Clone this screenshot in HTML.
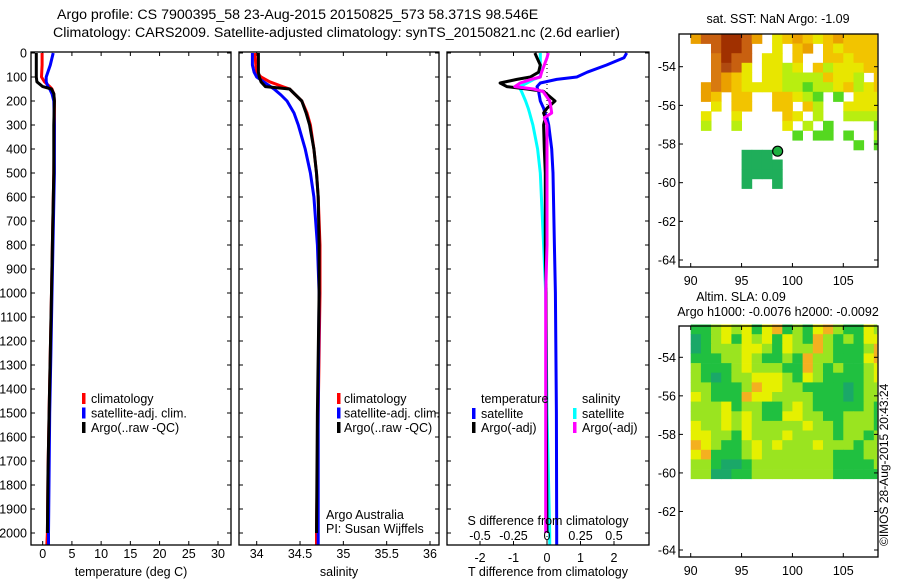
<!DOCTYPE html>
<html><head><meta charset="utf-8">
<style>
html,body{margin:0;padding:0;background:#fff;}
svg{display:block;font-family:"Liberation Sans",sans-serif;}
text{font-size:12.5px;fill:#000;}
</style></head>
<body>
<svg id="fig" width="900" height="580" viewBox="0 0 900 580" xmlns="http://www.w3.org/2000/svg">
<text x="57" y="19" style="font-size:14.2px">Argo profile: CS 7900395_58 23-Aug-2015 20150825_573 58.371S 98.546E</text>
<text x="53" y="37" style="font-size:14.2px">Climatology: CARS2009. Satellite-adjusted climatology: synTS_20150821.nc (2.6d earlier)</text>
<g id="g1"></g>
<g id="g2"></g>
<g id="g3"></g>
<g id="g4"></g>
<g id="g5"></g>
<text transform="translate(888,546) rotate(-90)" style="font-size:12px">©IMOS 28-Aug-2015 20:43:24</text>
</svg>
<script>
// ---- data ----
const tDepth=[0,50,100,120,140,150,170,200,300,500,750,1000,1250,1500,1750,2000,2050];
const tClim=[-0.1,-0.1,-0.2,0.3,1.2,1.6,1.9,2.0,2.0,1.9,1.7,1.5,1.3,1.1,0.9,0.8,0.7];
const tSat=[1.8,1.3,0.6,0.6,0.9,1.2,1.6,1.9,2.0,2.0,1.8,1.6,1.4,1.2,1.1,1.0,1.0];
const tArgo=[-1.1,-1.1,-1.1,-1.0,0.0,1.5,1.9,2.0,1.9,1.9,1.7,1.5,1.3,1.1,0.9,0.8,null];
const sDepth=[0,50,80,100,120,140,150,175,200,250,300,400,500,600,800,1000,1500,2000,2050];
const sClim=[33.98,33.99,34.0,34.05,34.15,34.3,34.38,34.45,34.52,34.58,34.62,34.66,34.69,34.71,34.73,34.73,34.71,34.69,34.69];
const sSat=[33.95,33.95,33.97,34.0,34.08,34.16,34.2,34.28,34.35,34.43,34.48,34.56,34.62,34.66,34.70,34.72,34.71,34.71,34.71];
const sArgo=[34.02,34.02,34.02,34.03,34.05,34.1,34.38,34.45,34.52,34.57,34.61,34.66,34.69,34.71,34.72,34.72,34.70,34.69,null];
const dDepth=[0,20,50,80,100,110,125,140,150,160,200,230,250,270,300,400,500,800,1000,1500,2000,2050];
const dTsat=[2.38,2.3,1.78,1.2,0.89,0.29,-0.2,-0.3,-0.28,-0.25,-0.2,-0.1,-0.06,0.0,0.05,0.14,0.18,0.22,0.25,0.28,0.29,0.29];
const dTargo=[-0.36,-0.3,-0.2,-0.25,-0.5,-0.9,-1.4,-1.2,-0.6,-0.1,0.24,0.0,-0.1,-0.05,-0.1,-0.08,-0.05,-0.05,-0.03,-0.02,0.0,null];
const dSsat=[-0.05,-0.05,-0.05,-0.05,-0.05,-0.1,-0.15,-0.2,-0.2,-0.19,-0.16,-0.14,-0.13,-0.12,-0.105,-0.07,-0.05,-0.025,-0.01,0.0,0.02,0.02];
const dSargo=[0.01,0.0,-0.02,-0.04,-0.05,-0.12,-0.2,-0.24,-0.1,-0.03,0.02,0.03,0.035,-0.02,0.0,0.0,0.0,0.0,-0.01,-0.01,-0.01,null];
const tTicks=[0,5,10,15,20,25,30];
const sTicks=[34,34.5,35,35.5,36];
const dTicks=[-2,-1,0,1,2];
const dSTickLabels=["-0.5","-0.25","0","0.25","0.5"];
const depthTicks=[0,100,200,300,400,500,600,700,800,900,1000,1100,1200,1300,1400,1500,1600,1700,1800,1900,2000];
const latTicks=[-54,-56,-58,-60,-62,-64];
const lonTicks=[90,95,100,105];
// SST grid: rows 0.5 deg from -52.3 southward, cols 1 deg from 90E; '.'=no data
const sstRows=[
"5779975.34543454444",
"..7997..3.45.434444",
"..6977.33.4..443444",
"..6873.3323.4233344",
"..6543.3322224332.4",
".565433332212234234",
".54.44..44321.1.333",
"..3.44..44.42..3333",
".3..3....43.2..2222",
".2..2....3.2.1....1",
"..........1.11.1..2",
"................1.1",
".....000...........",
".....0000..........",
".....0000..........",
".....0..0.........."];
// SLA grid: rows 0.5 deg from -52.3 to -60, cols 1 deg from 90E; 0=teal..4=orange
const slaRows=[
"1123231341213421132",
"0123132313214212133",
"0122233213224211124",
"1112232112142211134",
"2111232221142121123",
"2101223332132111123",
"2211124332211110122",
"3211143322221110122",
"2223122112321111121",
"2223232113322112221",
"3223232222232212221",
"3322132223222212212",
"4321123232223222122",
"3411123222222211122",
"2210012222222211112",
"2200112222222211111"];
const argoLon=98.546, argoLat=-58.371;

// ---- helpers ----
const NS="http://www.w3.org/2000/svg";
function mk(tag,attrs,parent){const e=document.createElementNS(NS,tag);for(const k in attrs)e.setAttribute(k,attrs[k]);parent.appendChild(e);return e;}
function lin(d0,d1,r0,r1){return v=>r0+(v-d0)*(r1-r0)/(d1-d0);}
const yD=lin(0,2000,53,533);
function frame(g,x0,x1,y0,y1){const r=mk('rect',{x:x0,y:y0,width:x1-x0,height:y1-y0,fill:'none',stroke:'#000','stroke-width':1.3},g);
}
function depthAxis(g,x0,x1,labels){
 depthTicks.forEach(d=>{const y=yD(d);
  mk('line',{x1:x0,x2:x0+4,y1:y,y2:y,stroke:'#000'},g);mk('line',{x1:x1,x2:x1-4,y1:y,y2:y,stroke:'#000'},g);
  if(labels){const t=mk('text',{x:x0-4,y:y+4.5,'text-anchor':'end'},g);t.textContent=d;
  }});
}
function xAxis(g,sc,ticks,labs,y0,y1,ly){
 ticks.forEach((v,i)=>{const x=sc(v);
  mk('line',{x1:x,x2:x,y1:y1,y2:y1-4,stroke:'#000'},g);mk('line',{x1:x,x2:x,y1:y0,y2:y0+4,stroke:'#000'},g);
  const t=mk('text',{x:x,y:ly,'text-anchor':'middle'},g);t.textContent=labs?labs[i]:v;
  });
}
function line(g,xs,ds,sc,col,w,name){
 let p='';let pen=false;
 xs.forEach((v,i)=>{if(v===null){pen=false;return;}p+=(pen?'L':'M')+sc(v).toFixed(1)+','+yD(ds[i]).toFixed(1);pen=true;});
 const e=mk('path',{d:p,fill:'none',stroke:col,'stroke-width':w,'stroke-linejoin':'round'},g);
 
}
function label(g,x,y,s,name,anchor){const t=mk('text',{x:x,y:y,'text-anchor':anchor||'start'},g);t.textContent=s;
 return t;}
function legMark(g,x,y,col){const r=mk('rect',{x:x,y:y-10,width:3.5,height:11,fill:col},g);
 }

// ---- panel 1 temperature ----
const g1=document.getElementById('g1');
const xT=lin(0,30,42.7,218);
depthAxis(g1,31,231,true);
xAxis(g1,xT,tTicks,null,52,545,558);
line(g1,tClim,tDepth,xT,'#f00',3,'temp-climatology-line');
line(g1,tSat,tDepth,xT,'#00f',3,'temp-satellite-line');
line(g1,tArgo,tDepth,xT,'#000',3,'temp-argo-line');
frame(g1,31,231,52,545);
label(g1,131,576,'temperature (deg C)','x-axis-title','middle');
[['#f00','climatology'],['#00f','satellite-adj. clim.'],['#000','Argo(..raw -QC)']].forEach((l,i)=>{legMark(g1,82,403+i*14.5,l[0]);label(g1,91,403+i*14.5,l[1],'legend-entry');});

// ---- panel 2 salinity ----
const g2=document.getElementById('g2');
const xS=lin(34,36,256.7,430);
depthAxis(g2,239,439,false);
xAxis(g2,xS,sTicks,null,52,545,558);
line(g2,sClim,sDepth,xS,'#f00',3,'sal-climatology-line');
line(g2,sSat,sDepth,xS,'#00f',3,'sal-satellite-line');
line(g2,sArgo,sDepth,xS,'#000',3,'sal-argo-line');
frame(g2,239,439,52,545);
label(g2,339,576,'salinity','x-axis-title','middle');
[['#f00','climatology'],['#00f','satellite-adj. clim.'],['#000','Argo(..raw -QC)']].forEach((l,i)=>{legMark(g2,337,403+i*14.5,l[0]);label(g2,344,403+i*14.5,l[1],'legend-entry');});
label(g2,326,519,'Argo Australia','credit-text');
label(g2,326,533,'PI: Susan Wijffels','credit-text');

// ---- panel 3 differences ----
const g3=document.getElementById('g3');
const xD=lin(0,2,547,614);
const xDS=v=>xD(v*4);
depthAxis(g3,447,649,false);
xAxis(g3,xD,dTicks,null,52,545,562);
const zl=mk('line',{x1:xD(0),x2:xD(0),y1:52,y2:545,stroke:'#000','stroke-dasharray':'1,3'},g3);

line(g3,dTsat,dDepth,xD,'#00f',3,'tdiff-satellite-line');
line(g3,dSsat,dDepth,xDS,'#0ff',3,'sdiff-satellite-line');
line(g3,dTargo,dDepth,xD,'#000',3,'tdiff-argo-line');
line(g3,dSargo,dDepth,xDS,'#f0f',3,'sdiff-argo-line');
frame(g3,447,649,52,545);
dTicks.forEach((v,i)=>label(g3,xD(v),540,dSTickLabels[i],'s-tick-label','middle'));
label(g3,548,525,'S difference from climatology','s-axis-title','middle');
label(g3,548,576,'T difference from climatology','x-axis-title','middle');
label(g3,481,403,'temperature','legend-title');
label(g3,582,403,'salinity','legend-title');
legMark(g3,472,418,'#00f');label(g3,481,418,'satellite','legend-entry');
legMark(g3,472,432,'#000');label(g3,481,432,'Argo(-adj)','legend-entry');
legMark(g3,573,418,'#0ff');label(g3,582,418,'satellite','legend-entry');
legMark(g3,573,432,'#f0f');label(g3,582,432,'Argo(-adj)','legend-entry');

// ---- maps ----
const sstCol={'0':'#1fae5a','1':'#55d820','2':'#b8ee10','3':'#e8e600','4':'#f2c400','5':'#eaa000','6':'#d87a10','7':'#c86010','8':'#b04a10','9':'#a03000'};
const slaCol={'0':'#1aa868','1':'#20c040','2':'#9ae420','3':'#e6f000','4':'#f4b020'};
function mapAxes(g,x0,x1,y0,y1,lon,lat,lblY){
 lonTicks.forEach(v=>{const x=lon(v);mk('line',{x1:x,x2:x,y1:y1,y2:y1-4,stroke:'#000'},g);mk('line',{x1:x,x2:x,y1:y0,y2:y0+4,stroke:'#000'},g);
  label(g,x,lblY,v,'lon-tick-label','middle');});
 latTicks.forEach(v=>{const y=lat(v);mk('line',{x1:x0,x2:x0+4,y1:y,y2:y,stroke:'#000'},g);mk('line',{x1:x1,x2:x1-4,y1:y,y2:y,stroke:'#000'},g);
  label(g,x0-3,y+4.5,v,'lat-tick-label','end');});
 frame(g,x0,x1,y0,y1);
}
function grid(g,rows,cols,lon,lat,lat0,maxLon,name){
 rows.forEach((r,i)=>{for(let j=0;j<r.length;j++){const c=r[j];if(c==='.')continue;
  const xa=lon(90+j),xb=lon(Math.min(90+j+1,maxLon)),ya=lat(lat0-i*0.5),yb=lat(lat0-(i+1)*0.5);
  const e=mk('rect',{x:xa.toFixed(1),y:ya.toFixed(1),width:(xb-xa+0.4).toFixed(1),height:(yb-ya+0.4).toFixed(1),fill:cols[c]},g);
  }});
}
const g4=document.getElementById('g4');
const lon1=lin(90,105,690.7,843.3), lat1=lin(-54,-64,66.7,260);
grid(g4,sstRows,sstCol,lon1,lat1,-52.3,108.3,'sst-cell');
const dot=mk('circle',{cx:lon1(argoLon),cy:lat1(argoLat),r:5,fill:'#1db040',stroke:'#000','stroke-width':1.2},g4);

mapAxes(g4,679,878,34,267,lon1,lat1,285);
label(g4,778,23,'sat. SST: NaN Argo: -1.09','map-title','middle');

const g5=document.getElementById('g5');
const lat2=lin(-54,-64,357.3,550);
grid(g5,slaRows,slaCol,lon1,lat2,-52.3,108.3,'sla-cell');
mapAxes(g5,679,878,326,557,lon1,lat2,575);
label(g5,741,301,'Altim. SLA: 0.09','map-title','middle');
label(g5,778,316,'Argo h1000: -0.0076 h2000: -0.0092','map-subtitle','middle');
</script>
</body></html>
